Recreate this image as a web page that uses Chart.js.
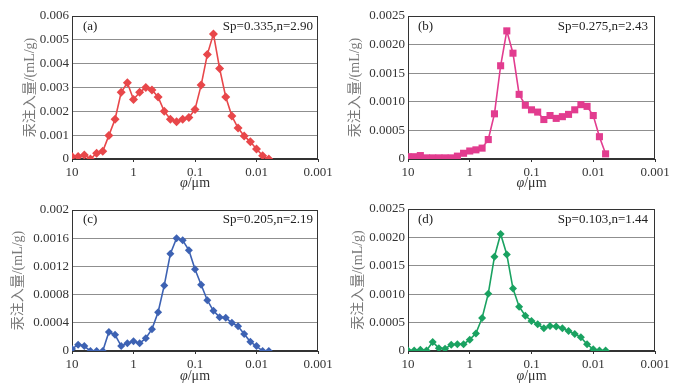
<!DOCTYPE html>
<html><head><meta charset="utf-8">
<script src="https://cdn.jsdelivr.net/npm/chart.js@4.4.0/dist/chart.umd.min.js"></script>
<style>
body{margin:0;background:#fff;width:683px;height:391px;overflow:hidden;position:relative}
.p{position:absolute}
</style></head><body>
<div class="p" style="left:0;top:0;width:340px;height:195px"><canvas id="ca"></canvas></div>
<div class="p" style="left:340px;top:0;width:343px;height:195px"><canvas id="cb"></canvas></div>
<div class="p" style="left:0;top:195px;width:340px;height:196px"><canvas id="cc"></canvas></div>
<div class="p" style="left:340px;top:195px;width:343px;height:196px"><canvas id="cd"></canvas></div>
<script>
// pore diameter categories (µm)
const diameters = [10, 7.943, 6.310, 5.012, 3.981, 3.162, 2.512, 1.995, 1.585, 1.259,
  1, 0.7943, 0.6310, 0.5012, 0.3981, 0.3162, 0.2512, 0.1995, 0.1585, 0.1259,
  0.1, 0.07943, 0.06310, 0.05012, 0.03981, 0.03162, 0.02512, 0.01995, 0.01585, 0.01259,
  0.01, 0.007943, 0.006310];

const xTickValues = [10, 1, 0.1, 0.01, 0.001];
const xTickLabels = ['10', '1', '0.1', '0.01', '0.001'];

const seriesA = [0.0001, 0.0001, 0.00017, 0.0, 0.00024, 0.00032, 0.00099, 0.00167, 0.0028, 0.0032,
  0.0025, 0.0028, 0.0030, 0.0029, 0.0026, 0.0020, 0.00167, 0.00156, 0.00167, 0.00174,
  0.00208, 0.0031, 0.00438, 0.00525, 0.0038, 0.0026, 0.0018, 0.0013, 0.00097, 0.00072,
  0.00042, 0.00014, 0.0];
const seriesB = [0.00004, 0.00004, 0.00006, 0.00002, 0.00002, 0.00002, 0.00002, 0.00002, 0.00005, 0.0001,
  0.00014, 0.00016, 0.00019, 0.00034, 0.00079, 0.00163, 0.00224, 0.00185, 0.00113, 0.00094,
  0.00086, 0.00082, 0.00069, 0.00076, 0.00071, 0.00074, 0.00078, 0.00086, 0.00095, 0.00092,
  0.00076, 0.00039, 0.00009];
const seriesC = [0.00003, 0.00009, 0.00007, 0, 0, 0, 0.00027, 0.00023, 0.00007, 0.00011,
  0.00014, 0.00011, 0.00018, 0.00031, 0.00055, 0.00093, 0.00138, 0.0016, 0.00157, 0.00143,
  0.00116, 0.00094, 0.00072, 0.00057, 0.00048, 0.00047, 0.0004, 0.00035, 0.00024, 0.00013,
  0.00007, 0, 0];
const seriesD = [0.00001, 0.00001, 0.00002, 0.00001, 0.00016, 0.00005, 0.00004, 0.00011, 0.00012, 0.00012,
  0.0002, 0.00031, 0.00058, 0.00101, 0.00166, 0.00206, 0.0017, 0.0011, 0.00078, 0.00062,
  0.00053, 0.00047, 0.0004, 0.00044, 0.00043, 0.0004, 0.00035, 0.0003, 0.00024, 0.00012,
  0.00003, 0.00001, 0.00001];

const yTicksA = [0, 0.001, 0.002, 0.003, 0.004, 0.005, 0.006];
const yLabelsA = ['0', '0.001', '0.002', '0.003', '0.004', '0.005', '0.006'];
const yTicksB = [0, 0.0005, 0.001, 0.0015, 0.002, 0.0025];
const yLabelsB = ['0', '0.0005', '0.0010', '0.0015', '0.0020', '0.0025'];
const yTicksC = [0, 0.0004, 0.0008, 0.0012, 0.0016, 0.002];
const yLabelsC = ['0', '0.0004', '0.0008', '0.0012', '0.0016', '0.002'];
const yTicksD = [0, 0.0005, 0.001, 0.0015, 0.002, 0.0025];
const yLabelsD = ['0', '0.0005', '0.0010', '0.0015', '0.0020', '0.0025'];

const panelLetters = ['(a)', '(b)', '(c)', '(d)'];
const panelNotes = ['Sp=0.335,n=2.90', 'Sp=0.275,n=2.43', 'Sp=0.205,n=2.19', 'Sp=0.103,n=1.44'];
const yTitle = '汞注入量/(mL/g)';

const SERIF = "'Liberation Serif', 'Times New Roman', serif";
const TITLEFONT = "'Liberation Serif', 'Noto Sans CJK SC', serif";

const decor = {
  id: 'decor',
  beforeDatasetsDraw(chart) {
    const {ctx, chartArea: a} = chart;
    ctx.save();
    ctx.strokeStyle = '#333';
    ctx.lineWidth = 1;
    const l = Math.round(a.left) + 0.5, t = Math.round(a.top) + 0.5;
    const r = Math.round(a.right) - 0.5, b = Math.round(a.bottom) - 0.5;
    ctx.strokeRect(l, t, r - l, b - t);
    ctx.restore();
  },
  afterDraw(chart) {
    const {ctx, chartArea: a} = chart;
    const o = chart.options.plugins.decor;
    ctx.save();
    ctx.fillStyle = '#222';
    ctx.font = '13px ' + SERIF;
    ctx.textBaseline = 'middle';
    ctx.textAlign = 'left';
    ctx.fillText(o.letter, a.left + o.letterDx, a.top + o.textDy);
    ctx.textAlign = 'right';
    ctx.fillText(o.note, a.right - o.noteDx, a.top + o.textDy);
    // x axis title: italic phi + /µm
    const y = a.bottom + o.xTitleDy;
    const cx = (a.left + a.right) / 2;
    ctx.font = 'italic 14px ' + SERIF;
    const w1 = ctx.measureText('φ').width;
    ctx.font = '14px ' + SERIF;
    const w2 = ctx.measureText('/μm').width;
    const x0 = cx - (w1 + w2) / 2;
    ctx.fillStyle = '#333';
    ctx.textAlign = 'left';
    ctx.font = 'italic 14px ' + SERIF;
    ctx.fillText('φ', x0, y);
    ctx.font = '14px ' + SERIF;
    ctx.fillText('/μm', x0 + w1, y);
    ctx.restore();
  }
};

function makePanel(id, values, color, style, radius, yTicks, yLabels, idx, lay) {
  new Chart(document.getElementById(id), {
    type: 'line',
    data: {
      datasets: [{
        data: diameters.map((d, i) => ({x: d, y: values[i]})),
        borderColor: color,
        backgroundColor: color,
        borderWidth: 1.6,
        pointStyle: style,
        pointRadius: radius,
        pointBorderWidth: 0,
        tension: 0
      }]
    },
    options: {
      responsive: true,
      maintainAspectRatio: false,
      animation: false,
      layout: {padding: {left: 0, top: lay.top, right: lay.right, bottom: 0}},
      plugins: {
        legend: {display: false},
        tooltip: {enabled: false},
        decor: {letter: panelLetters[idx], note: panelNotes[idx], letterDx: lay.letterDx,
                noteDx: lay.noteDx, textDy: lay.textDy, xTitleDy: lay.xTitleDy}
      },
      scales: {
        x: {
          type: 'logarithmic',
          reverse: true,
          min: 0.001,
          max: 10,
          afterBuildTicks(s) { s.ticks = xTickValues.map(v => ({value: v})); },
          afterFit(s) { s.height = lay.xHeight; },
          ticks: {
            autoSkip: false, maxRotation: 0, padding: 3, color: '#333',
            font: {family: SERIF, size: 13},
            callback: (v, i) => xTickLabels[i]
          },
          grid: {drawOnChartArea: false, drawTicks: true, tickLength: 3, color: '#333'},
          border: {display: true, color: '#333'}
        },
        y: {
          type: 'linear',
          min: 0,
          max: yTicks[yTicks.length - 1],
          afterBuildTicks(s) { s.ticks = yTicks.map(v => ({value: v})); },
          afterFit(s) { s.width = lay.yWidth; },
          ticks: {
            padding: 3, color: '#333',
            font: {family: SERIF, size: 13},
            callback: (v, i) => yLabels[i]
          },
          grid: {drawTicks: false, color: '#8f8f8f'},
          border: {display: true, color: '#333'},
          title: {
            display: true, text: yTitle, color: '#7a7a7a',
            font: {family: TITLEFONT, size: 14},
            padding: {top: lay.titlePad, bottom: 0}
          }
        }
      }
    },
    plugins: [decor]
  });
}

makePanel('ca', seriesA, '#e8474a', 'rectRot', 4.5, yTicksA, yLabelsA, 0,
  {top: 16, right: 22, xHeight: 36, yWidth: 72, titlePad: 21.5, letterDx: 11, noteDx: 5, textDy: 11, xTitleDy: 24});
makePanel('cb', seriesB, '#e23c8f', 'rect', 5, yTicksB, yLabelsB, 1,
  {top: 16, right: 28, xHeight: 36, yWidth: 68, titlePad: 7, letterDx: 10, noteDx: 7, textDy: 11, xTitleDy: 24});
makePanel('cc', seriesC, '#3d62b3', 'rectRot', 4, yTicksC, yLabelsC, 2,
  {top: 15, right: 22, xHeight: 40, yWidth: 72, titlePad: 9.5, letterDx: 11, noteDx: 5, textDy: 10, xTitleDy: 25});
makePanel('cd', seriesD, '#1aa261', 'rectRot', 4, yTicksD, yLabelsD, 3,
  {top: 14, right: 28, xHeight: 40, yWidth: 68, titlePad: 9.5, letterDx: 10, noteDx: 7, textDy: 11, xTitleDy: 25});
</script>
</body></html>
